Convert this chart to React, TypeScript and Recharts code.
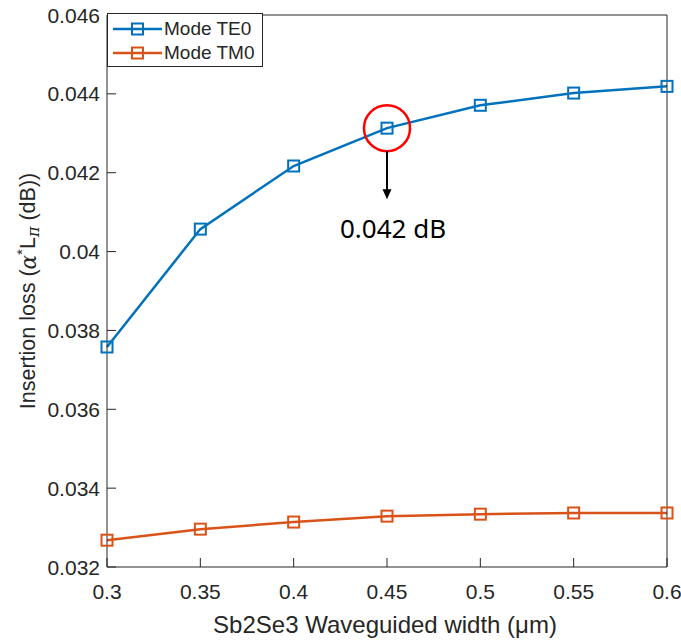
import React from 'react';
import {
  LineChart, Line, XAxis, YAxis, Legend, ReferenceDot,
} from 'recharts';

const widths = [0.3, 0.35, 0.4, 0.45, 0.5, 0.55, 0.6];
const te0 = [0.03758, 0.04057, 0.04217, 0.04313, 0.04371, 0.04402, 0.04419];
const tm0 = [0.03268, 0.03296, 0.03314, 0.03329, 0.03334, 0.03337, 0.03337];
const yTicks = [0.032, 0.034, 0.036, 0.038, 0.04, 0.042, 0.044, 0.046];
const seriesNames = ['Mode TE0', 'Mode TM0'];
const highlight = { w: 0.45, v: 0.04313, label: '0.042 dB' };

const BLUE = '#0072BD';
const ORANGE = '#D95319';
const AXIS = '#262626';
const FONT = '"Liberation Sans", Arial, sans-serif';
const TICK = 9;

const data = widths.map((w, i) => ({ w, te0: te0[i], tm0: tm0[i] }));

const SquareDot = (props: any) => {
  const { cx, cy, stroke } = props;
  if (cx == null || cy == null) return null;
  return <rect x={cx - 5.5} y={cy - 5.5} width={11} height={11} fill="none" stroke={stroke} strokeWidth={2} />;
};

const LeftTick = ({ x, y, payload }: any) => (
  <g>
    <line x1={x} x2={x + TICK} y1={y} y2={y} stroke={AXIS} strokeWidth={1} />
    <text x={x - 7} y={y} textAnchor="end" dominantBaseline="central" fontSize={21} fill={AXIS} fontFamily={FONT}>
      {payload.value}
    </text>
  </g>
);

const RightTick = ({ x, y }: any) => (
  <line x1={x} x2={x - TICK} y1={y} y2={y} stroke={AXIS} strokeWidth={1} />
);

const BottomTick = ({ x, y, payload }: any) => (
  <g>
    <line x1={x} x2={x} y1={y} y2={y - TICK} stroke={AXIS} strokeWidth={1} />
    <text x={x} y={y + 24} textAnchor="middle" dominantBaseline="central" fontSize={21} fill={AXIS} fontFamily={FONT}>
      {payload.value}
    </text>
  </g>
);

const TopTick = ({ x, y }: any) => (
  <line x1={x} x2={x} y1={y} y2={y + TICK} stroke={AXIS} strokeWidth={1} />
);

const YTitle = ({ viewBox }: any) => {
  const cy = viewBox.y + viewBox.height / 2;
  const cx = 28;
  return (
    <text x={cx} y={cy} transform={`rotate(-90 ${cx} ${cy})`} textAnchor="middle" dominantBaseline="central"
      fontSize={21.5} fill={AXIS} fontFamily={FONT}>
      <tspan>Insertion loss (</tspan>
      <tspan fontStyle="italic" fontFamily='"DejaVu Serif", serif'>α</tspan>
      <tspan dy={-7} fontSize={15}>*</tspan>
      <tspan dy={7}>L</tspan>
      <tspan dy={5} fontSize={16} fontStyle="italic" fontFamily='"DejaVu Serif", serif'>π</tspan>
      <tspan dy={-5}> (dB))</tspan>
    </text>
  );
};

const XTitle = ({ viewBox }: any) => (
  <text x={viewBox.x + viewBox.width / 2 - 2} y={624} textAnchor="middle" dominantBaseline="central"
    fontSize={24} fill={AXIS} fontFamily={FONT}>
    Sb2Se3 Waveguided width (μm)
  </text>
);

const Callout = ({ cx, cy }: any) => {
  if (cx == null || cy == null) return null;
  return (
    <g>
      <circle cx={cx} cy={cy} r={23} fill="none" stroke="#FF0000" strokeWidth={2.5} />
      <line x1={cx} x2={cx} y1={cy + 23} y2={cy + 62} stroke="#000" strokeWidth={2} />
      <polygon points={`${cx - 4.5},${cy + 61} ${cx + 4.5},${cy + 61} ${cx},${cy + 71}`} fill="#000" />
      <text x={cx + 6} y={cy + 110} textAnchor="middle" fontSize={26} fill="#000" fontFamily='"Noto Sans", sans-serif'>
        {highlight.label}
      </text>
    </g>
  );
};

const LegendBox = () => (
  <div style={{
    width: 156, height: 54, boxSizing: 'border-box', border: `1px solid ${AXIS}`, background: '#fff',
    paddingTop: 3, fontFamily: FONT, fontSize: 19, color: AXIS,
  }}>
    {seriesNames.map((name, i) => {
      const c = i === 0 ? BLUE : ORANGE;
      return (
        <div key={name} style={{ display: 'flex', alignItems: 'center', height: 24 }}>
          <svg width={56} height={24} style={{ display: 'block' }}>
            <line x1={5} x2={54} y1={12} y2={12} stroke={c} strokeWidth={2.5} />
            <rect x={24} y={6.5} width={11} height={11} fill="none" stroke={c} strokeWidth={2} />
          </svg>
          <span style={{ lineHeight: '24px' }}>{name}</span>
        </div>
      );
    })}
  </div>
);

export default function App() {
  return (
    <div style={{ position: 'absolute', left: 0, top: 0, background: '#fff' }}>
      <LineChart width={681} height={641} data={data} margin={{ top: 0, right: 0, bottom: 0, left: 0 }}>
        <XAxis dataKey="w" type="number" domain={[0.3, 0.6]} ticks={widths} height={74}
          tickSize={0} tickMargin={0} tickLine={false} tick={<BottomTick />}
          axisLine={{ stroke: AXIS }} label={<XTitle />} />
        <XAxis xAxisId="t" orientation="top" type="number" domain={[0.3, 0.6]} ticks={widths} height={15}
          tickSize={0} tickMargin={0} tickLine={false} tick={<TopTick />} axisLine={{ stroke: AXIS }} />
        <YAxis type="number" domain={[0.032, 0.046]} ticks={yTicks} width={107}
          tickSize={0} tickMargin={0} tickLine={false} tick={<LeftTick />}
          axisLine={{ stroke: AXIS }} label={<YTitle />} />
        <YAxis yAxisId="r" orientation="right" type="number" domain={[0.032, 0.046]} ticks={yTicks} width={14}
          tickSize={0} tickMargin={0} tickLine={false} tick={<RightTick />} axisLine={{ stroke: AXIS }} />
        <Legend layout="vertical" align="center" verticalAlign="middle" content={<LegendBox />}
          wrapperStyle={{ left: 107, top: 13, width: 156, height: 54 }} />
        <Line dataKey="te0" name={seriesNames[0]} stroke={BLUE} strokeWidth={2.5} dot={<SquareDot />}
          activeDot={false} isAnimationActive={false} />
        <Line dataKey="tm0" name={seriesNames[1]} stroke={ORANGE} strokeWidth={2.5} dot={<SquareDot />}
          activeDot={false} isAnimationActive={false} />
        <ReferenceDot x={highlight.w} y={highlight.v} shape={<Callout />} />
      </LineChart>
    </div>
  );
}
